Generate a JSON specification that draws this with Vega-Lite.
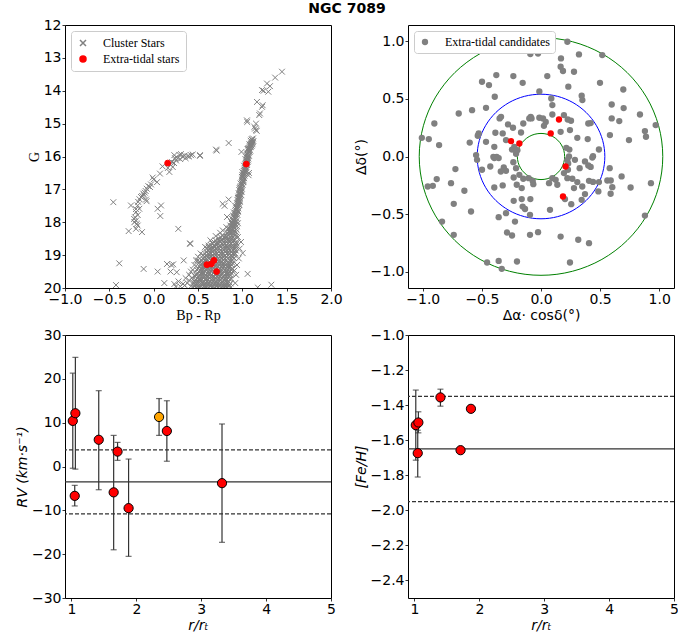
{
"$schema": "https://vega.github.io/schema/vega-lite/v6.json",
"background": "white",
"padding": {"left": 14, "top": 1, "right": 0, "bottom": 0},
"title": {"text": "NGC 7089", "font": "DejaVu Sans", "fontSize": 14, "fontWeight": "bold", "anchor": "middle", "offset": 2, "color": "black"},
"config": {
  "view": {"stroke": "black", "strokeWidth": 1},
  "axis": {"grid": false, "domain": false, "tickColor": "black", "tickSize": 3, "tickWidth": 0.8, "labelFont": "DejaVu Sans", "labelFontSize": 14, "labelColor": "black", "labelPadding": 1, "titleFont": "DejaVu Sans", "titleFontSize": 14, "titleFontWeight": "normal", "titleColor": "black", "titlePadding": 2, "labelFlush": false, "labelOverlap": false}
},
"datasets": {
  "cmd": [
    {"b":1.447,"g":13.42,"k":"C"},{"b":1.37,"g":13.6,"k":"C"},{"b":1.278,"g":13.78,"k":"C"},{"b":1.312,"g":13.86,"k":"C"},{"b":1.222,"g":13.98,"k":"C"},{"b":1.293,"g":14.03,"k":"C"},{"b":1.24,"g":14.0,"k":"C"},{"b":1.165,"g":14.34,"k":"C"},{"b":1.222,"g":14.49,"k":"C"},{"b":1.229,"g":14.44,"k":"C"},{"b":1.191,"g":14.74,"k":"C"},{"b":1.199,"g":14.69,"k":"C"},{"b":1.154,"g":15.0,"k":"C"},{"b":1.135,"g":15.1,"k":"C"},{"b":1.154,"g":15.2,"k":"C"},{"b":1.143,"g":15.15,"k":"C"},{"b":1.162,"g":15.22,"k":"C"},{"b":1.052,"g":14.9,"k":"C"},{"b":1.055,"g":14.95,"k":"C"},{"b":0.99,"g":15.86,"k":"C"},{"b":0.846,"g":15.59,"k":"C"},{"b":0.703,"g":15.79,"k":"C"},{"b":0.71,"g":15.82,"k":"C"},{"b":0.522,"g":15.98,"k":"C"},
    {"b":1.12,"g":15.45,"k":"C"},{"b":1.105,"g":15.47,"k":"C"},{"b":1.11,"g":15.5,"k":"C"},{"b":1.125,"g":15.53,"k":"C"},{"b":1.095,"g":15.52,"k":"C"},{"b":1.1,"g":15.58,"k":"C"},{"b":1.115,"g":15.6,"k":"C"},{"b":1.09,"g":15.65,"k":"C"},{"b":1.105,"g":15.67,"k":"C"},{"b":1.08,"g":15.63,"k":"C"},{"b":1.085,"g":15.72,"k":"C"},{"b":1.07,"g":15.74,"k":"C"},{"b":1.075,"g":15.8,"k":"C"},{"b":1.09,"g":15.82,"k":"C"},{"b":1.06,"g":15.78,"k":"C"},{"b":1.07,"g":15.9,"k":"C"},{"b":1.055,"g":15.92,"k":"C"},{"b":1.06,"g":16.0,"k":"C"},{"b":1.045,"g":16.02,"k":"C"},{"b":1.075,"g":15.98,"k":"C"},{"b":1.05,"g":16.1,"k":"C"},{"b":1.065,"g":16.12,"k":"C"},{"b":1.035,"g":16.08,"k":"C"},{"b":1.04,"g":16.2,"k":"C"},{"b":1.055,"g":16.22,"k":"C"},{"b":1.03,"g":16.3,"k":"C"},{"b":1.045,"g":16.32,"k":"C"},{"b":1.02,"g":16.28,"k":"C"},{"b":1.025,"g":16.4,"k":"C"},{"b":1.04,"g":16.42,"k":"C"},{"b":1.015,"g":16.5,"k":"C"},{"b":1.03,"g":16.52,"k":"C"},{"b":1.0,"g":16.48,"k":"C"},{"b":1.01,"g":16.6,"k":"C"},{"b":0.995,"g":16.62,"k":"C"},{"b":1.025,"g":16.58,"k":"C"},{"b":1.0,"g":16.7,"k":"C"},{"b":1.015,"g":16.72,"k":"C"},{"b":0.995,"g":16.8,"k":"C"},{"b":0.98,"g":16.82,"k":"C"},{"b":1.01,"g":16.78,"k":"C"},{"b":0.99,"g":16.9,"k":"C"},{"b":0.975,"g":16.92,"k":"C"},{"b":0.98,"g":17.0,"k":"C"},{"b":0.965,"g":17.02,"k":"C"},{"b":0.995,"g":16.98,"k":"C"},{"b":0.975,"g":17.1,"k":"C"},{"b":0.96,"g":17.12,"k":"C"},{"b":0.99,"g":17.08,"k":"C"},{"b":0.97,"g":17.2,"k":"C"},{"b":0.955,"g":17.22,"k":"C"},{"b":0.985,"g":17.18,"k":"C"},{"b":0.96,"g":17.3,"k":"C"},{"b":0.945,"g":17.32,"k":"C"},{"b":0.975,"g":17.28,"k":"C"},{"b":0.955,"g":17.4,"k":"C"},{"b":0.94,"g":17.42,"k":"C"},{"b":0.97,"g":17.38,"k":"C"},{"b":0.95,"g":17.5,"k":"C"},{"b":0.935,"g":17.52,"k":"C"},{"b":0.965,"g":17.48,"k":"C"},{"b":0.92,"g":17.5,"k":"C"},{"b":0.94,"g":17.6,"k":"C"},{"b":0.925,"g":17.62,"k":"C"},{"b":0.955,"g":17.58,"k":"C"},{"b":0.935,"g":17.7,"k":"C"},{"b":0.92,"g":17.72,"k":"C"},{"b":0.95,"g":17.68,"k":"C"},{"b":0.905,"g":17.7,"k":"C"},{"b":0.925,"g":17.8,"k":"C"},{"b":0.91,"g":17.82,"k":"C"},{"b":0.945,"g":17.78,"k":"C"},{"b":0.895,"g":17.8,"k":"C"},{"b":0.92,"g":17.9,"k":"C"},{"b":0.9,"g":17.92,"k":"C"},{"b":0.935,"g":17.88,"k":"C"},{"b":0.885,"g":17.9,"k":"C"},{"b":0.91,"g":18.0,"k":"C"},{"b":0.895,"g":18.02,"k":"C"},{"b":0.93,"g":17.98,"k":"C"},{"b":0.875,"g":18.0,"k":"C"},{"b":0.95,"g":18.03,"k":"C"},{"b":0.905,"g":18.1,"k":"C"},{"b":0.885,"g":18.12,"k":"C"},{"b":0.92,"g":18.08,"k":"C"},{"b":0.865,"g":18.1,"k":"C"},{"b":0.94,"g":18.12,"k":"C"},{"b":0.895,"g":18.2,"k":"C"},{"b":0.875,"g":18.22,"k":"C"},{"b":0.915,"g":18.18,"k":"C"},{"b":0.855,"g":18.2,"k":"C"},{"b":0.935,"g":18.22,"k":"C"},{"b":0.84,"g":18.2,"k":"C"},{"b":0.89,"g":18.3,"k":"C"},{"b":0.87,"g":18.32,"k":"C"},{"b":0.91,"g":18.28,"k":"C"},{"b":0.85,"g":18.3,"k":"C"},{"b":0.83,"g":18.32,"k":"C"},{"b":0.93,"g":18.3,"k":"C"},
    {"b":1.105,"g":15.55,"k":"C"},{"b":1.118,"g":15.56,"k":"C"},{"b":1.095,"g":15.62,"k":"C"},{"b":1.11,"g":15.63,"k":"C"},{"b":1.085,"g":15.69,"k":"C"},{"b":1.098,"g":15.7,"k":"C"},{"b":1.078,"g":15.76,"k":"C"},{"b":1.065,"g":15.77,"k":"C"},{"b":1.07,"g":15.85,"k":"C"},{"b":1.083,"g":15.86,"k":"C"},{"b":1.062,"g":15.95,"k":"C"},{"b":1.05,"g":15.96,"k":"C"},{"b":1.055,"g":16.05,"k":"C"},{"b":1.068,"g":16.06,"k":"C"},{"b":1.045,"g":16.15,"k":"C"},{"b":1.06,"g":16.16,"k":"C"},{"b":1.035,"g":16.25,"k":"C"},{"b":1.05,"g":16.26,"k":"C"},{"b":1.028,"g":16.35,"k":"C"},{"b":1.042,"g":16.36,"k":"C"},{"b":1.02,"g":16.45,"k":"C"},{"b":1.035,"g":16.46,"k":"C"},{"b":1.012,"g":16.55,"k":"C"},{"b":1.0,"g":16.56,"k":"C"},{"b":1.005,"g":16.65,"k":"C"},{"b":1.02,"g":16.66,"k":"C"},{"b":0.998,"g":16.75,"k":"C"},{"b":1.01,"g":16.76,"k":"C"},{"b":0.99,"g":16.85,"k":"C"},{"b":1.003,"g":16.86,"k":"C"},{"b":0.983,"g":16.95,"k":"C"},{"b":0.97,"g":16.96,"k":"C"},{"b":0.978,"g":17.05,"k":"C"},{"b":0.99,"g":17.06,"k":"C"},{"b":0.97,"g":17.15,"k":"C"},{"b":0.983,"g":17.16,"k":"C"},{"b":0.965,"g":17.25,"k":"C"},{"b":0.95,"g":17.26,"k":"C"},{"b":0.958,"g":17.35,"k":"C"},{"b":0.972,"g":17.36,"k":"C"},{"b":0.95,"g":17.45,"k":"C"},{"b":0.963,"g":17.46,"k":"C"},{"b":0.945,"g":17.55,"k":"C"},{"b":0.93,"g":17.56,"k":"C"},{"b":0.938,"g":17.65,"k":"C"},{"b":0.952,"g":17.66,"k":"C"},{"b":0.928,"g":17.75,"k":"C"},{"b":0.915,"g":17.76,"k":"C"},{"b":0.92,"g":17.85,"k":"C"},{"b":0.905,"g":17.86,"k":"C"},{"b":0.912,"g":17.95,"k":"C"},{"b":0.895,"g":17.96,"k":"C"},{"b":0.905,"g":18.05,"k":"C"},{"b":0.885,"g":18.06,"k":"C"},{"b":0.9,"g":18.15,"k":"C"},{"b":0.875,"g":18.16,"k":"C"},{"b":0.89,"g":18.25,"k":"C"},{"b":0.86,"g":18.26,"k":"C"},
    {"b":0.778,"g":17.44,"k":"C"},{"b":0.8,"g":17.5,"k":"C"},{"b":0.827,"g":17.84,"k":"C"},{"b":0.846,"g":17.31,"k":"C"},{"b":1.004,"g":18.94,"k":"C"},{"b":1.06,"g":19.57,"k":"C"},{"b":1.327,"g":19.9,"k":"C"},{"b":1.173,"g":19.98,"k":"C"},{"b":0.41,"g":18.64,"k":"C"},{"b":0.62,"g":18.71,"k":"C"},{"b":0.477,"g":19.16,"k":"C"},{"b":0.891,"g":19.42,"k":"C"},{"b":0.91,"g":19.47,"k":"C"},{"b":1.07,"g":16.57,"k":"C"},{"b":1.075,"g":16.5,"k":"C"},{"b":0.985,"g":18.6,"k":"C"},{"b":0.97,"g":18.8,"k":"C"},{"b":0.96,"g":19.1,"k":"C"},{"b":0.94,"g":19.3,"k":"C"},{"b":0.93,"g":19.6,"k":"C"},{"b":0.92,"g":19.85,"k":"C"},{"b":0.95,"g":18.45,"k":"C"},
    {"b":0.42,"g":19.5,"k":"C"},{"b":0.4,"g":19.77,"k":"C"},{"b":0.38,"g":19.85,"k":"C"},{"b":0.35,"g":19.92,"k":"C"},{"b":0.33,"g":19.88,"k":"C"},{"b":0.3,"g":19.95,"k":"C"},{"b":0.46,"g":19.3,"k":"C"},{"b":0.44,"g":19.45,"k":"C"},{"b":0.5,"g":19.05,"k":"C"},{"b":0.53,"g":18.95,"k":"C"},{"b":0.58,"g":18.75,"k":"C"},{"b":0.64,"g":18.55,"k":"C"},{"b":0.7,"g":18.42,"k":"C"},{"b":0.75,"g":18.32,"k":"C"},{"b":0.78,"g":18.25,"k":"C"},{"b":0.82,"g":18.15,"k":"C"},{"b":0.4,"g":19.6,"k":"C"},{"b":0.36,"g":19.7,"k":"C"},{"b":0.25,"g":19.96,"k":"C"},{"b":0.233,"g":19.88,"k":"C"},{"b":0.28,"g":19.8,"k":"C"},{"b":0.43,"g":19.7,"k":"C"},{"b":0.46,"g":19.85,"k":"C"},{"b":0.42,"g":19.95,"k":"C"},
    {"b":0.233,"g":15.96,"k":"C"},{"b":0.308,"g":15.93,"k":"C"},{"b":0.327,"g":16.01,"k":"C"},{"b":0.384,"g":15.99,"k":"C"},{"b":0.421,"g":15.96,"k":"C"},{"b":0.523,"g":15.96,"k":"C"},{"b":0.252,"g":16.12,"k":"C"},{"b":0.27,"g":16.05,"k":"C"},{"b":0.207,"g":16.17,"k":"C"},{"b":0.215,"g":16.32,"k":"C"},{"b":0.177,"g":16.47,"k":"C"},{"b":0.1,"g":16.3,"k":"C"},{"b":0.071,"g":16.52,"k":"C"},{"b":0.038,"g":16.78,"k":"C"},{"b":-0.011,"g":16.64,"k":"C"},{"b":-0.041,"g":16.93,"k":"C"},{"b":-0.078,"g":16.98,"k":"C"},{"b":-0.09,"g":17.05,"k":"C"},{"b":-0.117,"g":17.13,"k":"C"},{"b":-0.11,"g":17.18,"k":"C"},{"b":-0.143,"g":17.23,"k":"C"},{"b":-0.087,"g":17.31,"k":"C"},{"b":-0.08,"g":17.36,"k":"C"},{"b":-0.175,"g":17.38,"k":"C"},{"b":-0.18,"g":17.49,"k":"C"},{"b":-0.256,"g":17.49,"k":"C"},{"b":-0.162,"g":17.59,"k":"C"},{"b":-0.199,"g":17.69,"k":"C"},{"b":-0.18,"g":17.78,"k":"C"},{"b":-0.199,"g":17.95,"k":"C"},{"b":-0.218,"g":18.0,"k":"C"},{"b":-0.18,"g":18.1,"k":"C"},{"b":-0.199,"g":18.2,"k":"C"},{"b":-0.282,"g":18.27,"k":"C"},{"b":-0.132,"g":18.3,"k":"C"},{"b":-0.455,"g":17.39,"k":"C"},{"b":0.045,"g":17.59,"k":"C"},{"b":0.083,"g":17.49,"k":"C"},{"b":0.075,"g":17.81,"k":"C"},{"b":0.278,"g":18.2,"k":"C"},{"b":0.413,"g":18.66,"k":"C"},{"b":-0.388,"g":19.25,"k":"C"},{"b":-0.113,"g":19.42,"k":"C"},{"b":0.045,"g":19.5,"k":"C"},{"b":0.15,"g":19.27,"k":"C"},{"b":0.2,"g":19.3,"k":"C"},{"b":0.22,"g":19.28,"k":"C"},{"b":0.19,"g":19.5,"k":"C"},{"b":0.26,"g":19.52,"k":"C"},{"b":0.339,"g":19.16,"k":"C"},{"b":0.12,"g":19.85,"k":"C"},{"b":-0.425,"g":19.91,"k":"C"},{"b":0.458,"g":19.62,"k":"C"},{"b":0.497,"g":19.16,"k":"C"},
    {"b":0.29,"g":15.95,"k":"C"},{"b":0.35,"g":15.97,"k":"C"},{"b":0.4,"g":16.0,"k":"C"},{"b":0.36,"g":16.05,"k":"C"},{"b":0.3,"g":16.08,"k":"C"},{"b":0.24,"g":16.05,"k":"C"},{"b":0.19,"g":16.25,"k":"C"},{"b":0.16,"g":16.35,"k":"C"},{"b":0.23,"g":16.2,"k":"C"},{"b":0.44,"g":15.94,"k":"C"},{"b":0.0,"g":16.7,"k":"C"},{"b":-0.03,"g":16.85,"k":"C"},{"b":-0.06,"g":16.9,"k":"C"},{"b":-0.1,"g":17.1,"k":"C"},{"b":-0.13,"g":17.2,"k":"C"},{"b":-0.16,"g":17.3,"k":"C"},{"b":-0.2,"g":17.6,"k":"C"},{"b":-0.21,"g":17.85,"k":"C"},{"b":-0.22,"g":17.9,"k":"C"},{"b":-0.19,"g":18.05,"k":"C"},
    {"b":0.78,"g":18.4,"k":"C"},{"b":0.815,"g":18.43,"k":"C"},{"b":0.85,"g":18.38,"k":"C"},{"b":0.885,"g":18.42,"k":"C"},{"b":0.92,"g":18.4,"k":"C"},
    {"b":0.737,"g":18.5,"k":"C"},{"b":0.772,"g":18.53,"k":"C"},{"b":0.807,"g":18.48,"k":"C"},{"b":0.842,"g":18.52,"k":"C"},{"b":0.877,"g":18.49,"k":"C"},{"b":0.912,"g":18.51,"k":"C"},
    {"b":0.68,"g":18.6,"k":"C"},{"b":0.715,"g":18.63,"k":"C"},{"b":0.75,"g":18.58,"k":"C"},{"b":0.785,"g":18.62,"k":"C"},{"b":0.82,"g":18.59,"k":"C"},{"b":0.855,"g":18.61,"k":"C"},{"b":0.89,"g":18.58,"k":"C"},{"b":0.925,"g":18.62,"k":"C"},
    {"b":0.647,"g":18.7,"k":"C"},{"b":0.682,"g":18.73,"k":"C"},{"b":0.717,"g":18.68,"k":"C"},{"b":0.752,"g":18.72,"k":"C"},{"b":0.787,"g":18.69,"k":"C"},{"b":0.822,"g":18.71,"k":"C"},{"b":0.857,"g":18.68,"k":"C"},{"b":0.892,"g":18.72,"k":"C"},{"b":0.927,"g":18.7,"k":"C"},
    {"b":0.6,"g":18.8,"k":"C"},{"b":0.635,"g":18.83,"k":"C"},{"b":0.67,"g":18.78,"k":"C"},{"b":0.705,"g":18.82,"k":"C"},{"b":0.74,"g":18.79,"k":"C"},{"b":0.775,"g":18.81,"k":"C"},{"b":0.81,"g":18.78,"k":"C"},{"b":0.845,"g":18.82,"k":"C"},{"b":0.88,"g":18.8,"k":"C"},{"b":0.915,"g":18.83,"k":"C"},
    {"b":0.597,"g":18.9,"k":"C"},{"b":0.632,"g":18.93,"k":"C"},{"b":0.667,"g":18.88,"k":"C"},{"b":0.702,"g":18.92,"k":"C"},{"b":0.737,"g":18.89,"k":"C"},{"b":0.772,"g":18.91,"k":"C"},{"b":0.807,"g":18.88,"k":"C"},{"b":0.842,"g":18.92,"k":"C"},{"b":0.877,"g":18.9,"k":"C"},{"b":0.912,"g":18.93,"k":"C"},
    {"b":0.56,"g":19.0,"k":"C"},{"b":0.595,"g":19.03,"k":"C"},{"b":0.63,"g":18.98,"k":"C"},{"b":0.665,"g":19.02,"k":"C"},{"b":0.7,"g":18.99,"k":"C"},{"b":0.735,"g":19.01,"k":"C"},{"b":0.77,"g":18.98,"k":"C"},{"b":0.805,"g":19.02,"k":"C"},{"b":0.84,"g":19.0,"k":"C"},{"b":0.875,"g":19.03,"k":"C"},{"b":0.91,"g":18.99,"k":"C"},
    {"b":0.557,"g":19.1,"k":"C"},{"b":0.592,"g":19.13,"k":"C"},{"b":0.627,"g":19.08,"k":"C"},{"b":0.662,"g":19.12,"k":"C"},{"b":0.697,"g":19.09,"k":"C"},{"b":0.732,"g":19.11,"k":"C"},{"b":0.767,"g":19.08,"k":"C"},{"b":0.802,"g":19.12,"k":"C"},{"b":0.837,"g":19.1,"k":"C"},{"b":0.872,"g":19.13,"k":"C"},{"b":0.907,"g":19.09,"k":"C"},
    {"b":0.52,"g":19.2,"k":"C"},{"b":0.555,"g":19.23,"k":"C"},{"b":0.59,"g":19.18,"k":"C"},{"b":0.625,"g":19.22,"k":"C"},{"b":0.66,"g":19.19,"k":"C"},{"b":0.695,"g":19.21,"k":"C"},{"b":0.73,"g":19.18,"k":"C"},{"b":0.765,"g":19.22,"k":"C"},{"b":0.8,"g":19.2,"k":"C"},{"b":0.835,"g":19.23,"k":"C"},{"b":0.87,"g":19.19,"k":"C"},
    {"b":0.527,"g":19.3,"k":"C"},{"b":0.562,"g":19.33,"k":"C"},{"b":0.597,"g":19.28,"k":"C"},{"b":0.632,"g":19.32,"k":"C"},{"b":0.667,"g":19.29,"k":"C"},{"b":0.702,"g":19.31,"k":"C"},{"b":0.737,"g":19.28,"k":"C"},{"b":0.772,"g":19.32,"k":"C"},{"b":0.807,"g":19.3,"k":"C"},{"b":0.842,"g":19.33,"k":"C"},{"b":0.877,"g":19.29,"k":"C"},
    {"b":0.5,"g":19.4,"k":"C"},{"b":0.535,"g":19.43,"k":"C"},{"b":0.57,"g":19.38,"k":"C"},{"b":0.605,"g":19.42,"k":"C"},{"b":0.64,"g":19.39,"k":"C"},{"b":0.675,"g":19.41,"k":"C"},{"b":0.71,"g":19.38,"k":"C"},{"b":0.745,"g":19.42,"k":"C"},{"b":0.78,"g":19.4,"k":"C"},{"b":0.815,"g":19.43,"k":"C"},{"b":0.85,"g":19.39,"k":"C"},{"b":0.885,"g":19.41,"k":"C"},
    {"b":0.507,"g":19.5,"k":"C"},{"b":0.542,"g":19.53,"k":"C"},{"b":0.577,"g":19.48,"k":"C"},{"b":0.612,"g":19.52,"k":"C"},{"b":0.647,"g":19.49,"k":"C"},{"b":0.682,"g":19.51,"k":"C"},{"b":0.717,"g":19.48,"k":"C"},{"b":0.752,"g":19.52,"k":"C"},{"b":0.787,"g":19.5,"k":"C"},{"b":0.822,"g":19.53,"k":"C"},{"b":0.857,"g":19.49,"k":"C"},
    {"b":0.48,"g":19.6,"k":"C"},{"b":0.515,"g":19.63,"k":"C"},{"b":0.55,"g":19.58,"k":"C"},{"b":0.585,"g":19.62,"k":"C"},{"b":0.62,"g":19.59,"k":"C"},{"b":0.655,"g":19.61,"k":"C"},{"b":0.69,"g":19.58,"k":"C"},{"b":0.725,"g":19.62,"k":"C"},{"b":0.76,"g":19.6,"k":"C"},{"b":0.795,"g":19.63,"k":"C"},{"b":0.83,"g":19.59,"k":"C"},{"b":0.865,"g":19.61,"k":"C"},
    {"b":0.487,"g":19.7,"k":"C"},{"b":0.522,"g":19.73,"k":"C"},{"b":0.557,"g":19.68,"k":"C"},{"b":0.592,"g":19.72,"k":"C"},{"b":0.627,"g":19.69,"k":"C"},{"b":0.662,"g":19.71,"k":"C"},{"b":0.697,"g":19.68,"k":"C"},{"b":0.732,"g":19.72,"k":"C"},{"b":0.767,"g":19.7,"k":"C"},{"b":0.802,"g":19.73,"k":"C"},{"b":0.837,"g":19.69,"k":"C"},{"b":0.872,"g":19.71,"k":"C"},
    {"b":0.46,"g":19.8,"k":"C"},{"b":0.495,"g":19.83,"k":"C"},{"b":0.53,"g":19.78,"k":"C"},{"b":0.565,"g":19.82,"k":"C"},{"b":0.6,"g":19.79,"k":"C"},{"b":0.635,"g":19.81,"k":"C"},{"b":0.67,"g":19.78,"k":"C"},{"b":0.705,"g":19.82,"k":"C"},{"b":0.74,"g":19.8,"k":"C"},{"b":0.775,"g":19.83,"k":"C"},{"b":0.81,"g":19.79,"k":"C"},{"b":0.845,"g":19.81,"k":"C"},
    {"b":0.467,"g":19.9,"k":"C"},{"b":0.502,"g":19.93,"k":"C"},{"b":0.537,"g":19.88,"k":"C"},{"b":0.572,"g":19.92,"k":"C"},{"b":0.607,"g":19.89,"k":"C"},{"b":0.642,"g":19.91,"k":"C"},{"b":0.677,"g":19.88,"k":"C"},{"b":0.712,"g":19.92,"k":"C"},{"b":0.747,"g":19.9,"k":"C"},{"b":0.782,"g":19.93,"k":"C"},{"b":0.817,"g":19.89,"k":"C"},{"b":0.852,"g":19.91,"k":"C"},
    {"b":0.45,"g":19.98,"k":"C"},{"b":0.485,"g":19.99,"k":"C"},{"b":0.52,"g":19.97,"k":"C"},{"b":0.555,"g":19.99,"k":"C"},{"b":0.59,"g":19.98,"k":"C"},{"b":0.625,"g":19.99,"k":"C"},{"b":0.66,"g":19.97,"k":"C"},{"b":0.695,"g":19.99,"k":"C"},{"b":0.73,"g":19.98,"k":"C"},{"b":0.765,"g":19.99,"k":"C"},{"b":0.8,"g":19.97,"k":"C"},{"b":0.835,"g":19.99,"k":"C"},{"b":0.87,"g":19.98,"k":"C"},
    {"b":0.755,"g":18.45,"k":"C"},{"b":0.79,"g":18.46,"k":"C"},{"b":0.825,"g":18.44,"k":"C"},{"b":0.86,"g":18.46,"k":"C"},{"b":0.895,"g":18.45,"k":"C"},{"b":0.93,"g":18.44,"k":"C"},
    {"b":0.7,"g":18.55,"k":"C"},{"b":0.735,"g":18.56,"k":"C"},{"b":0.77,"g":18.54,"k":"C"},{"b":0.805,"g":18.56,"k":"C"},{"b":0.84,"g":18.55,"k":"C"},{"b":0.875,"g":18.54,"k":"C"},{"b":0.91,"g":18.56,"k":"C"},
    {"b":0.665,"g":18.65,"k":"C"},{"b":0.7,"g":18.66,"k":"C"},{"b":0.735,"g":18.64,"k":"C"},{"b":0.77,"g":18.66,"k":"C"},{"b":0.805,"g":18.65,"k":"C"},{"b":0.84,"g":18.64,"k":"C"},{"b":0.875,"g":18.66,"k":"C"},{"b":0.91,"g":18.65,"k":"C"},{"b":0.935,"g":18.64,"k":"C"},
    {"b":0.62,"g":18.75,"k":"C"},{"b":0.655,"g":18.76,"k":"C"},{"b":0.69,"g":18.74,"k":"C"},{"b":0.725,"g":18.76,"k":"C"},{"b":0.76,"g":18.75,"k":"C"},{"b":0.795,"g":18.74,"k":"C"},{"b":0.83,"g":18.76,"k":"C"},{"b":0.865,"g":18.75,"k":"C"},{"b":0.9,"g":18.74,"k":"C"},{"b":0.93,"g":18.76,"k":"C"},
    {"b":0.615,"g":18.85,"k":"C"},{"b":0.65,"g":18.86,"k":"C"},{"b":0.685,"g":18.84,"k":"C"},{"b":0.72,"g":18.86,"k":"C"},{"b":0.755,"g":18.85,"k":"C"},{"b":0.79,"g":18.84,"k":"C"},{"b":0.825,"g":18.86,"k":"C"},{"b":0.86,"g":18.85,"k":"C"},{"b":0.895,"g":18.84,"k":"C"},{"b":0.925,"g":18.86,"k":"C"},
    {"b":0.578,"g":18.95,"k":"C"},{"b":0.613,"g":18.96,"k":"C"},{"b":0.648,"g":18.94,"k":"C"},{"b":0.683,"g":18.96,"k":"C"},{"b":0.718,"g":18.95,"k":"C"},{"b":0.753,"g":18.94,"k":"C"},{"b":0.788,"g":18.96,"k":"C"},{"b":0.823,"g":18.95,"k":"C"},{"b":0.858,"g":18.94,"k":"C"},{"b":0.893,"g":18.96,"k":"C"},{"b":0.92,"g":18.95,"k":"C"},
    {"b":0.575,"g":19.05,"k":"C"},{"b":0.61,"g":19.06,"k":"C"},{"b":0.645,"g":19.04,"k":"C"},{"b":0.68,"g":19.06,"k":"C"},{"b":0.715,"g":19.05,"k":"C"},{"b":0.75,"g":19.04,"k":"C"},{"b":0.785,"g":19.06,"k":"C"},{"b":0.82,"g":19.05,"k":"C"},{"b":0.855,"g":19.04,"k":"C"},{"b":0.89,"g":19.06,"k":"C"},
    {"b":0.538,"g":19.15,"k":"C"},{"b":0.573,"g":19.16,"k":"C"},{"b":0.608,"g":19.14,"k":"C"},{"b":0.643,"g":19.16,"k":"C"},{"b":0.678,"g":19.15,"k":"C"},{"b":0.713,"g":19.14,"k":"C"},{"b":0.748,"g":19.16,"k":"C"},{"b":0.783,"g":19.15,"k":"C"},{"b":0.818,"g":19.14,"k":"C"},{"b":0.853,"g":19.16,"k":"C"},{"b":0.888,"g":19.15,"k":"C"},
    {"b":0.51,"g":19.25,"k":"C"},{"b":0.545,"g":19.26,"k":"C"},{"b":0.58,"g":19.24,"k":"C"},{"b":0.615,"g":19.26,"k":"C"},{"b":0.65,"g":19.25,"k":"C"},{"b":0.685,"g":19.24,"k":"C"},{"b":0.72,"g":19.26,"k":"C"},{"b":0.755,"g":19.25,"k":"C"},{"b":0.79,"g":19.24,"k":"C"},{"b":0.825,"g":19.26,"k":"C"},{"b":0.86,"g":19.25,"k":"C"},{"b":0.89,"g":19.24,"k":"C"},
    {"b":0.517,"g":19.35,"k":"C"},{"b":0.552,"g":19.36,"k":"C"},{"b":0.587,"g":19.34,"k":"C"},{"b":0.622,"g":19.36,"k":"C"},{"b":0.657,"g":19.35,"k":"C"},{"b":0.692,"g":19.34,"k":"C"},{"b":0.727,"g":19.36,"k":"C"},{"b":0.762,"g":19.35,"k":"C"},{"b":0.797,"g":19.34,"k":"C"},{"b":0.832,"g":19.36,"k":"C"},{"b":0.867,"g":19.35,"k":"C"},
    {"b":0.49,"g":19.45,"k":"C"},{"b":0.525,"g":19.46,"k":"C"},{"b":0.56,"g":19.44,"k":"C"},{"b":0.595,"g":19.46,"k":"C"},{"b":0.63,"g":19.45,"k":"C"},{"b":0.665,"g":19.44,"k":"C"},{"b":0.7,"g":19.46,"k":"C"},{"b":0.735,"g":19.45,"k":"C"},{"b":0.77,"g":19.44,"k":"C"},{"b":0.805,"g":19.46,"k":"C"},{"b":0.84,"g":19.45,"k":"C"},{"b":0.875,"g":19.44,"k":"C"},
    {"b":0.497,"g":19.55,"k":"C"},{"b":0.532,"g":19.56,"k":"C"},{"b":0.567,"g":19.54,"k":"C"},{"b":0.602,"g":19.56,"k":"C"},{"b":0.637,"g":19.55,"k":"C"},{"b":0.672,"g":19.54,"k":"C"},{"b":0.707,"g":19.56,"k":"C"},{"b":0.742,"g":19.55,"k":"C"},{"b":0.777,"g":19.54,"k":"C"},{"b":0.812,"g":19.56,"k":"C"},{"b":0.847,"g":19.55,"k":"C"},{"b":0.875,"g":19.54,"k":"C"},
    {"b":0.47,"g":19.65,"k":"C"},{"b":0.505,"g":19.66,"k":"C"},{"b":0.54,"g":19.64,"k":"C"},{"b":0.575,"g":19.66,"k":"C"},{"b":0.61,"g":19.65,"k":"C"},{"b":0.645,"g":19.64,"k":"C"},{"b":0.68,"g":19.66,"k":"C"},{"b":0.715,"g":19.65,"k":"C"},{"b":0.75,"g":19.64,"k":"C"},{"b":0.785,"g":19.66,"k":"C"},{"b":0.82,"g":19.65,"k":"C"},{"b":0.855,"g":19.64,"k":"C"},
    {"b":0.477,"g":19.75,"k":"C"},{"b":0.512,"g":19.76,"k":"C"},{"b":0.547,"g":19.74,"k":"C"},{"b":0.582,"g":19.76,"k":"C"},{"b":0.617,"g":19.75,"k":"C"},{"b":0.652,"g":19.74,"k":"C"},{"b":0.687,"g":19.76,"k":"C"},{"b":0.722,"g":19.75,"k":"C"},{"b":0.757,"g":19.74,"k":"C"},{"b":0.792,"g":19.76,"k":"C"},{"b":0.827,"g":19.75,"k":"C"},{"b":0.86,"g":19.74,"k":"C"},
    {"b":0.45,"g":19.85,"k":"C"},{"b":0.485,"g":19.86,"k":"C"},{"b":0.52,"g":19.84,"k":"C"},{"b":0.555,"g":19.86,"k":"C"},{"b":0.59,"g":19.85,"k":"C"},{"b":0.625,"g":19.84,"k":"C"},{"b":0.66,"g":19.86,"k":"C"},{"b":0.695,"g":19.85,"k":"C"},{"b":0.73,"g":19.84,"k":"C"},{"b":0.765,"g":19.86,"k":"C"},{"b":0.8,"g":19.85,"k":"C"},{"b":0.835,"g":19.84,"k":"C"},{"b":0.865,"g":19.86,"k":"C"},
    {"b":0.46,"g":19.95,"k":"C"},{"b":0.495,"g":19.96,"k":"C"},{"b":0.53,"g":19.94,"k":"C"},{"b":0.565,"g":19.96,"k":"C"},{"b":0.6,"g":19.95,"k":"C"},{"b":0.635,"g":19.94,"k":"C"},{"b":0.67,"g":19.96,"k":"C"},{"b":0.705,"g":19.95,"k":"C"},{"b":0.74,"g":19.94,"k":"C"},{"b":0.775,"g":19.96,"k":"C"},{"b":0.81,"g":19.95,"k":"C"},{"b":0.845,"g":19.94,"k":"C"},
    {"b":0.158,"g":16.2,"k":"E"},{"b":1.045,"g":16.23,"k":"E"},{"b":0.6,"g":19.29,"k":"E"},{"b":0.65,"g":19.27,"k":"E"},{"b":0.68,"g":19.16,"k":"E"},{"b":0.71,"g":19.5,"k":"E"}
  ],
  "rings": [
    {"ring":"outer","i":0,"x":1.03,"y":0},{"ring":"outer","i":1,"x":0.9949,"y":0.2666},{"ring":"outer","i":2,"x":0.892,"y":0.515},{"ring":"outer","i":3,"x":0.7283,"y":0.7283},{"ring":"outer","i":4,"x":0.515,"y":0.892},{"ring":"outer","i":5,"x":0.2666,"y":0.9949},{"ring":"outer","i":6,"x":0,"y":1.03},{"ring":"outer","i":7,"x":-0.2666,"y":0.9949},{"ring":"outer","i":8,"x":-0.515,"y":0.892},{"ring":"outer","i":9,"x":-0.7283,"y":0.7283},{"ring":"outer","i":10,"x":-0.892,"y":0.515},{"ring":"outer","i":11,"x":-0.9949,"y":0.2666},{"ring":"outer","i":12,"x":-1.03,"y":0},{"ring":"outer","i":13,"x":-0.9949,"y":-0.2666},{"ring":"outer","i":14,"x":-0.892,"y":-0.515},{"ring":"outer","i":15,"x":-0.7283,"y":-0.7283},{"ring":"outer","i":16,"x":-0.515,"y":-0.892},{"ring":"outer","i":17,"x":-0.2666,"y":-0.9949},{"ring":"outer","i":18,"x":0,"y":-1.03},{"ring":"outer","i":19,"x":0.2666,"y":-0.9949},{"ring":"outer","i":20,"x":0.515,"y":-0.892},{"ring":"outer","i":21,"x":0.7283,"y":-0.7283},{"ring":"outer","i":22,"x":0.892,"y":-0.515},{"ring":"outer","i":23,"x":0.9949,"y":-0.2666},
    {"ring":"mid","i":0,"x":0.54,"y":0},{"ring":"mid","i":1,"x":0.5216,"y":0.1398},{"ring":"mid","i":2,"x":0.4676,"y":0.27},{"ring":"mid","i":3,"x":0.3818,"y":0.3818},{"ring":"mid","i":4,"x":0.27,"y":0.4676},{"ring":"mid","i":5,"x":0.1398,"y":0.5216},{"ring":"mid","i":6,"x":0,"y":0.54},{"ring":"mid","i":7,"x":-0.1398,"y":0.5216},{"ring":"mid","i":8,"x":-0.27,"y":0.4676},{"ring":"mid","i":9,"x":-0.3818,"y":0.3818},{"ring":"mid","i":10,"x":-0.4676,"y":0.27},{"ring":"mid","i":11,"x":-0.5216,"y":0.1398},{"ring":"mid","i":12,"x":-0.54,"y":0},{"ring":"mid","i":13,"x":-0.5216,"y":-0.1398},{"ring":"mid","i":14,"x":-0.4676,"y":-0.27},{"ring":"mid","i":15,"x":-0.3818,"y":-0.3818},{"ring":"mid","i":16,"x":-0.27,"y":-0.4676},{"ring":"mid","i":17,"x":-0.1398,"y":-0.5216},{"ring":"mid","i":18,"x":0,"y":-0.54},{"ring":"mid","i":19,"x":0.1398,"y":-0.5216},{"ring":"mid","i":20,"x":0.27,"y":-0.4676},{"ring":"mid","i":21,"x":0.3818,"y":-0.3818},{"ring":"mid","i":22,"x":0.4676,"y":-0.27},{"ring":"mid","i":23,"x":0.5216,"y":-0.1398},
    {"ring":"inner","i":0,"x":0.2,"y":0},{"ring":"inner","i":1,"x":0.1932,"y":0.0518},{"ring":"inner","i":2,"x":0.1732,"y":0.1},{"ring":"inner","i":3,"x":0.1414,"y":0.1414},{"ring":"inner","i":4,"x":0.1,"y":0.1732},{"ring":"inner","i":5,"x":0.0518,"y":0.1932},{"ring":"inner","i":6,"x":0,"y":0.2},{"ring":"inner","i":7,"x":-0.0518,"y":0.1932},{"ring":"inner","i":8,"x":-0.1,"y":0.1732},{"ring":"inner","i":9,"x":-0.1414,"y":0.1414},{"ring":"inner","i":10,"x":-0.1732,"y":0.1},{"ring":"inner","i":11,"x":-0.1932,"y":0.0518},{"ring":"inner","i":12,"x":-0.2,"y":0},{"ring":"inner","i":13,"x":-0.1932,"y":-0.0518},{"ring":"inner","i":14,"x":-0.1732,"y":-0.1},{"ring":"inner","i":15,"x":-0.1414,"y":-0.1414},{"ring":"inner","i":16,"x":-0.1,"y":-0.1732},{"ring":"inner","i":17,"x":-0.0518,"y":-0.1932},{"ring":"inner","i":18,"x":0,"y":-0.2},{"ring":"inner","i":19,"x":0.0518,"y":-0.1932},{"ring":"inner","i":20,"x":0.1,"y":-0.1732},{"ring":"inner","i":21,"x":0.1414,"y":-0.1414},{"ring":"inner","i":22,"x":0.1732,"y":-0.1},{"ring":"inner","i":23,"x":0.1932,"y":-0.0518}
  ],
  "sky": [
    {"x":-0.09,"y":0.888},{"x":-0.025,"y":0.893},{"x":-0.378,"y":0.706},{"x":-0.499,"y":0.648},{"x":-0.234,"y":0.697},{"x":-0.155,"y":0.639},{"x":-0.44,"y":0.619},{"x":-0.391,"y":0.518},{"x":-0.696,"y":0.373},{"x":-0.583,"y":0.402},{"x":-0.465,"y":0.422},{"x":-0.902,"y":0.286},{"x":-1.008,"y":0.162},{"x":-0.949,"y":0.151},{"x":-0.862,"y":0.099},{"x":-0.603,"y":0.121},{"x":-0.527,"y":0.2},{"x":-0.535,"y":0.18},{"x":-0.465,"y":0.127},{"x":-0.386,"y":0.206},{"x":-0.324,"y":0.2},{"x":-0.338,"y":0.344},{"x":-0.35,"y":0.33},{"x":-0.279,"y":0.278},{"x":-0.237,"y":0.249},{"x":-0.169,"y":0.208},{"x":-0.15,"y":0.286},{"x":-0.099,"y":0.33},{"x":-0.08,"y":0.33},{"x":-0.087,"y":0.344},{"x":-0.014,"y":0.336},{"x":-0.296,"y":0.142},{"x":-0.395,"y":0.084},{"x":-0.226,"y":0.084},{"x":-0.2,"y":0.055},{"x":-0.375,"y":-0.003},{"x":-0.403,"y":-0.003},{"x":-0.549,"y":0.012},{"x":-0.245,"y":0.06},{"x":-0.211,"y":0.024},{"x":-0.014,"y":0.564},
    {"x":0.223,"y":0.995},{"x":0.321,"y":0.885},{"x":0.169,"y":0.85},{"x":0.166,"y":0.778},{"x":0.186,"y":0.741},{"x":0.279,"y":0.735},{"x":0.518,"y":0.879},{"x":0.053,"y":0.697},{"x":0.499,"y":0.639},{"x":0.231,"y":0.605},{"x":0.696,"y":0.581},{"x":0.344,"y":0.527},{"x":0.35,"y":0.489},{"x":0.087,"y":0.503},{"x":0.096,"y":0.446},{"x":0.598,"y":0.451},{"x":0.837,"y":0.364},{"x":0.096,"y":0.364},{"x":0.194,"y":0.359},{"x":0.226,"y":0.321},{"x":0.254,"y":0.31},{"x":0.4,"y":0.286},{"x":0.42,"y":0.29},{"x":0.598,"y":0.33},{"x":0.662,"y":0.307},{"x":0.97,"y":0.272},{"x":0.879,"y":0.22},{"x":0.888,"y":0.171},{"x":0.017,"y":0.33},{"x":0.025,"y":0.266},{"x":0.166,"y":0.214},{"x":0.245,"y":0.229},{"x":0.307,"y":0.162},{"x":0.395,"y":0.151},{"x":0.583,"y":0.186},{"x":0.744,"y":0.142},{"x":0.49,"y":0.061},{"x":0.214,"y":0.075},{"x":0.44,"y":0.003},{"x":0.24,"y":0.06},{"x":0.699,"y":0.42},{"x":0.04,"y":0.3},
    {"x":-0.724,"y":-0.109},{"x":-0.882,"y":-0.196},{"x":-0.915,"y":-0.254},{"x":-0.958,"y":-0.26},{"x":-0.761,"y":-0.231},{"x":-0.648,"y":-0.297},{"x":-0.738,"y":-0.41},{"x":-0.837,"y":-0.564},{"x":-0.592,"y":-0.477},{"x":-0.738,"y":-0.679},{"x":-0.456,"y":-0.919},{"x":-0.358,"y":-0.905},{"x":-0.332,"y":-0.974},{"x":-0.203,"y":-0.91},{"x":-0.358,"y":-0.526},{"x":-0.296,"y":-0.491},{"x":-0.287,"y":-0.659},{"x":-0.245,"y":-0.685},{"x":-0.22,"y":-0.564},{"x":-0.093,"y":-0.679},{"x":-0.025,"y":-0.656},{"x":-0.093,"y":-0.506},{"x":-0.395,"y":-0.269},{"x":-0.324,"y":-0.251},{"x":-0.231,"y":-0.182},{"x":-0.205,"y":-0.245},{"x":-0.163,"y":-0.274},{"x":-0.231,"y":-0.384},{"x":-0.163,"y":-0.369},{"x":-0.09,"y":-0.369},{"x":-0.155,"y":-0.434},{"x":-0.135,"y":-0.455},{"x":-0.065,"y":-0.24},{"x":-0.07,"y":-0.212},{"x":-0.15,"y":-0.193},{"x":-0.104,"y":-0.188},{"x":-0.541,"y":-0.029},{"x":-0.499,"y":-0.115},{"x":-0.429,"y":-0.087},{"x":-0.395,"y":-0.014},{"x":-0.358,"y":-0.014},{"x":-0.315,"y":-0.095},{"x":-0.296,"y":-0.124},{"x":-0.34,"y":-0.13},{"x":-0.234,"y":-0.049},{"x":-0.211,"y":-0.101},{"x":-0.183,"y":-0.159},
    {"x":0.237,"y":0},{"x":0.287,"y":-0.029},{"x":0.372,"y":-0.043},{"x":0.434,"y":-0.009},{"x":0.4,"y":-0.078},{"x":0.327,"y":-0.101},{"x":0.42,"y":-0.09},{"x":0.581,"y":-0.101},{"x":0.228,"y":-0.115},{"x":0.194,"y":-0.144},{"x":0.223,"y":-0.188},{"x":0.265,"y":-0.193},{"x":0.307,"y":-0.222},{"x":0.349,"y":-0.26},{"x":0.279,"y":-0.274},{"x":0.406,"y":-0.211},{"x":0.44,"y":-0.22},{"x":0.49,"y":-0.222},{"x":0.561,"y":-0.208},{"x":0.59,"y":-0.208},{"x":0.603,"y":-0.266},{"x":0.589,"y":-0.323},{"x":0.485,"y":-0.303},{"x":0.372,"y":-0.326},{"x":0.344,"y":-0.376},{"x":0.682,"y":-0.173},{"x":0.758,"y":-0.269},{"x":0.93,"y":-0.231},{"x":0.879,"y":-0.512},{"x":0.124,"y":-0.202},{"x":0.138,"y":-0.245},{"x":0.068,"y":-0.231},{"x":0.096,"y":-0.188},{"x":0.256,"y":-0.413},{"x":0.076,"y":-0.462},{"x":0.203,"y":-0.369},{"x":0.166,"y":-0.694},{"x":0.315,"y":-0.722},{"x":0.406,"y":-0.751},{"x":0.245,"y":-0.919},{"x":0.223,"y":-0.029},{"x":0.23,"y":-0.06}
  ],
  "skyred": [
    {"x":-0.254,"y":0.133},{"x":-0.183,"y":0.113},{"x":0.152,"y":0.321},{"x":0.082,"y":0.2},{"x":0.208,"y":-0.087},{"x":0.186,"y":-0.347}
  ],
  "rv": [
    {"r":1.02,"v":10.4,"lo":-0.4,"hi":21.3,"grp":"a"},
    {"r":1.06,"v":12.15,"lo":-0.6,"hi":24.9,"grp":"a"},
    {"r":1.05,"v":-6.7,"lo":-9.0,"hi":-4.3,"grp":"a"},
    {"r":1.42,"v":6.1,"lo":-5.3,"hi":17.3,"grp":"a"},
    {"r":1.65,"v":-5.9,"lo":-19.0,"hi":7.1,"grp":"a"},
    {"r":1.71,"v":3.4,"lo":1.4,"hi":5.5,"grp":"a"},
    {"r":1.88,"v":-9.5,"lo":-20.5,"hi":1.7,"grp":"a"},
    {"r":2.35,"v":11.3,"lo":7.1,"hi":15.5,"grp":"b"},
    {"r":2.47,"v":8.1,"lo":1.2,"hi":15.0,"grp":"a"},
    {"r":3.32,"v":-3.8,"lo":-17.3,"hi":9.7,"grp":"a"}
  ],
  "rvlines": [{"y":-3.5,"t":"mean"},{"y":3.8,"t":"sd"},{"y":-10.8,"t":"sd"}],
  "feh": [
    {"r":1.02,"v":-1.514,"lo":-1.714,"hi":-1.314},
    {"r":1.06,"v":-1.499,"lo":-1.558,"hi":-1.438},
    {"r":1.05,"v":-1.674,"lo":-1.81,"hi":-1.543},
    {"r":1.4,"v":-1.356,"lo":-1.406,"hi":-1.309},
    {"r":1.71,"v":-1.657,"lo":-1.67,"hi":-1.645},
    {"r":1.87,"v":-1.421,"lo":-1.43,"hi":-1.41}
  ],
  "fehlines": [{"y":-1.65,"t":"mean"},{"y":-1.35,"t":"sd"},{"y":-1.95,"t":"sd"}]
},
"columns": 2,
"bounds": "flush",
"spacing": {"row": 47, "column": 77},
"resolve": {"scale": {"color": "independent", "fill": "independent", "stroke": "independent", "shape": "independent", "size": "independent", "strokeDash": "independent"}, "legend": {"color": "independent", "fill": "independent", "stroke": "independent", "shape": "independent"}},
"concat": [
  {
    "width": 266, "height": 263,
    "data": {"name": "cmd"},
    "mark": {"type": "point", "filled": true, "opacity": 1, "strokeWidth": 1, "size": 34, "clip": true},
    "encoding": {
      "x": {"field": "b", "type": "quantitative", "scale": {"domain": [-1, 2], "nice": false, "zero": false}, "axis": {"values": [-1, -0.5, 0, 0.5, 1, 1.5, 2], "format": ".1f", "title": "Bp - Rp", "titleFont": "Liberation Serif", "labelOverlap": false}},
      "y": {"field": "g", "type": "quantitative", "scale": {"domain": [12, 20], "reverse": true, "nice": false, "zero": false}, "axis": {"values": [12, 13, 14, 15, 16, 17, 18, 19, 20], "title": "G", "titleFont": "Liberation Serif", "labelOverlap": false}},
      "shape": {"field": "k", "type": "nominal", "scale": {"domain": ["C", "E"], "range": ["M-1,-1L1,1M-1,1L1,-1", "circle"]}, "legend": {"orient": "top-left", "title": null, "labelFont": "Liberation Serif", "labelFontSize": 12, "labelColor": "black", "fillColor": "white", "strokeColor": "#cccccc", "padding": 6, "cornerRadius": 3, "offset": 6, "labelOffset": 14, "rowPadding": 4, "symbolSize": 36, "labelExpr": "datum.label == 'C' ? 'Cluster Stars' : 'Extra-tidal stars'"}},
      "fill": {"field": "k", "type": "nominal", "scale": {"domain": ["C", "E"], "range": ["transparent", "red"]}, "legend": {"orient": "top-left", "title": null, "labelFont": "Liberation Serif", "labelFontSize": 12, "labelColor": "black", "fillColor": "white", "strokeColor": "#cccccc", "padding": 6, "cornerRadius": 3, "offset": 6, "labelOffset": 14, "rowPadding": 4, "symbolSize": 36, "labelExpr": "datum.label == 'C' ? 'Cluster Stars' : 'Extra-tidal stars'"}},
      "stroke": {"field": "k", "type": "nominal", "scale": {"domain": ["C", "E"], "range": ["gray", "red"]}, "legend": {"orient": "top-left", "title": null, "labelFont": "Liberation Serif", "labelFontSize": 12, "labelColor": "black", "fillColor": "white", "strokeColor": "#cccccc", "padding": 6, "cornerRadius": 3, "offset": 6, "labelOffset": 14, "rowPadding": 4, "symbolSize": 36, "labelExpr": "datum.label == 'C' ? 'Cluster Stars' : 'Extra-tidal stars'"}}
    }
  },
  {
    "width": 266, "height": 263,
    "layer": [
      {
        "data": {"name": "rings"},
        "mark": {"type": "line", "interpolate": "cardinal-closed", "strokeWidth": 1, "clip": true},
        "encoding": {
          "x": {"field": "x", "type": "quantitative", "scale": {"domain": [-1.125, 1.125], "nice": false, "zero": false}, "axis": {"values": [-1, -0.5, 0, 0.5, 1], "format": ".1f", "title": "Δα· cosδ(°)", "labelOverlap": false}, "title": "Δα· cosδ(°)"},
          "y": {"field": "y", "type": "quantitative", "scale": {"domain": [-1.14, 1.14], "nice": false, "zero": false}, "axis": {"values": [-1, -0.5, 0, 0.5, 1], "format": ".1f", "title": "Δδ(°)", "labelOverlap": false}, "title": "Δδ(°)"},
          "stroke": {"field": "ring", "type": "nominal", "scale": {"domain": ["outer", "mid", "inner"], "range": ["green", "blue", "green"]}, "legend": null},
          "order": {"field": "i", "type": "quantitative"}
        }
      },
      {
        "data": {"name": "sky"},
        "mark": {"type": "point", "filled": true, "opacity": 1, "size": 40, "clip": true},
        "encoding": {
          "x": {"field": "x", "type": "quantitative", "title": "Δα· cosδ(°)"},
          "y": {"field": "y", "type": "quantitative", "title": "Δδ(°)"},
          "color": {"datum": "Extra-tidal candidates", "type": "nominal", "scale": {"range": ["gray"]}, "legend": {"orient": "top-left", "title": null, "labelFont": "Liberation Serif", "labelFontSize": 12, "labelColor": "black", "fillColor": "white", "strokeColor": "#cccccc", "padding": 5, "cornerRadius": 3, "offset": 6, "labelOffset": 14, "symbolSize": 40}}
        }
      },
      {
        "data": {"name": "skyred"},
        "mark": {"type": "point", "filled": true, "opacity": 1, "size": 40, "color": "red", "clip": true},
        "encoding": {
          "x": {"field": "x", "type": "quantitative", "title": "Δα· cosδ(°)"},
          "y": {"field": "y", "type": "quantitative", "title": "Δδ(°)"}
        }
      }
    ]
  },
  {
    "width": 266, "height": 263,
    "layer": [
      {
        "data": {"name": "rvlines"},
        "mark": {"type": "rule", "color": "#333333", "strokeWidth": 1.2},
        "encoding": {
          "y": {"field": "y", "type": "quantitative", "scale": {"domain": [-30, 30], "nice": false, "zero": false}, "axis": {"values": [-30, -20, -10, 0, 10, 20, 30], "title": "RV (km·s⁻¹)", "titleFontStyle": "italic", "labelOverlap": false}, "title": "RV (km·s⁻¹)"},
          "strokeDash": {"field": "t", "type": "nominal", "scale": {"domain": ["mean", "sd"], "range": [[1, 0], [4, 2]]}, "legend": null}
        }
      },
      {
        "data": {"name": "rv"},
        "mark": {"type": "rule", "color": "#333333", "strokeWidth": 1.2},
        "encoding": {
          "x": {"field": "r", "type": "quantitative", "scale": {"domain": [0.9, 5], "nice": false, "zero": false}, "axis": {"values": [1, 2, 3, 4, 5], "format": "d", "title": "r/rₜ", "titleFontStyle": "italic", "labelOverlap": false}, "title": "r/rₜ"},
          "y": {"field": "lo", "type": "quantitative", "title": "RV (km·s⁻¹)"},
          "y2": {"field": "hi"}
        }
      },
      {
        "data": {"name": "rv"},
        "mark": {"type": "tick", "orient": "horizontal", "color": "#333333", "size": 6, "thickness": 1.2},
        "encoding": {
          "x": {"field": "r", "type": "quantitative", "title": "r/rₜ"},
          "y": {"field": "lo", "type": "quantitative", "title": "RV (km·s⁻¹)"}
        }
      },
      {
        "data": {"name": "rv"},
        "mark": {"type": "tick", "orient": "horizontal", "color": "#333333", "size": 6, "thickness": 1.2},
        "encoding": {
          "x": {"field": "r", "type": "quantitative", "title": "r/rₜ"},
          "y": {"field": "hi", "type": "quantitative", "title": "RV (km·s⁻¹)"}
        }
      },
      {
        "data": {"name": "rv"},
        "mark": {"type": "point", "filled": true, "opacity": 1, "size": 85, "stroke": "black", "strokeWidth": 1},
        "encoding": {
          "x": {"field": "r", "type": "quantitative", "title": "r/rₜ"},
          "y": {"field": "v", "type": "quantitative", "title": "RV (km·s⁻¹)"},
          "fill": {"field": "grp", "type": "nominal", "scale": {"domain": ["a", "b"], "range": ["red", "orange"]}, "legend": null}
        }
      }
    ]
  },
  {
    "width": 266, "height": 263,
    "layer": [
      {
        "data": {"name": "fehlines"},
        "mark": {"type": "rule", "color": "#333333", "strokeWidth": 1.2},
        "encoding": {
          "y": {"field": "y", "type": "quantitative", "scale": {"domain": [-2.5, -1.0], "nice": false, "zero": false}, "axis": {"tickCount": 8, "format": ".1f", "title": "[Fe/H]", "titleFontStyle": "italic", "labelOverlap": false}, "title": "[Fe/H]"},
          "strokeDash": {"field": "t", "type": "nominal", "scale": {"domain": ["mean", "sd"], "range": [[1, 0], [4, 2]]}, "legend": null}
        }
      },
      {
        "data": {"name": "feh"},
        "mark": {"type": "rule", "color": "#333333", "strokeWidth": 1.2},
        "encoding": {
          "x": {"field": "r", "type": "quantitative", "scale": {"domain": [0.9, 5], "nice": false, "zero": false}, "axis": {"values": [1, 2, 3, 4, 5], "format": "d", "title": "r/rₜ", "titleFontStyle": "italic", "labelOverlap": false}, "title": "r/rₜ"},
          "y": {"field": "lo", "type": "quantitative", "title": "[Fe/H]", "axis": {"tickCount": 8, "format": ".1f", "title": "[Fe/H]", "titleFontStyle": "italic", "labelOverlap": false}},
          "y2": {"field": "hi"}
        }
      },
      {
        "data": {"name": "feh"},
        "mark": {"type": "tick", "orient": "horizontal", "color": "#333333", "size": 6, "thickness": 1.2},
        "encoding": {
          "x": {"field": "r", "type": "quantitative", "title": "r/rₜ"},
          "y": {"field": "lo", "type": "quantitative", "title": "[Fe/H]"}
        }
      },
      {
        "data": {"name": "feh"},
        "mark": {"type": "tick", "orient": "horizontal", "color": "#333333", "size": 6, "thickness": 1.2},
        "encoding": {
          "x": {"field": "r", "type": "quantitative", "title": "r/rₜ"},
          "y": {"field": "hi", "type": "quantitative", "title": "[Fe/H]"}
        }
      },
      {
        "data": {"name": "feh"},
        "mark": {"type": "point", "filled": true, "opacity": 1, "size": 85, "fill": "red", "stroke": "black", "strokeWidth": 1},
        "encoding": {
          "x": {"field": "r", "type": "quantitative", "title": "r/rₜ"},
          "y": {"field": "v", "type": "quantitative", "title": "[Fe/H]"}
        }
      }
    ]
  }
]
}
